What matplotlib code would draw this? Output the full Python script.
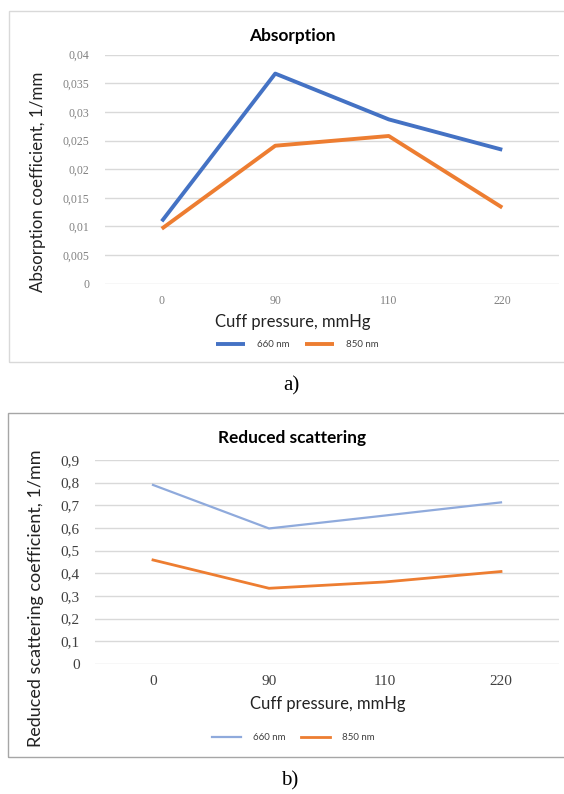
import matplotlib
matplotlib.use("Agg")
import matplotlib.pyplot as plt
from matplotlib.patches import Rectangle

# ---- data ----
pressures = ["0", "90", "110", "220"]
absorption_660 = [0.0109, 0.0367, 0.0287, 0.0234]
absorption_850 = [0.0096, 0.0241, 0.0258, 0.0133]
absorption_ticks = [0, 0.005, 0.01, 0.015, 0.02, 0.025, 0.03, 0.035, 0.04]
absorption_tick_labels = ["0", "0,005", "0,01", "0,015", "0,02", "0,025", "0,03", "0,035", "0,04"]

scattering_660 = [0.790, 0.598, 0.655, 0.713]
scattering_850 = [0.459, 0.334, 0.362, 0.408]
scattering_ticks = [0, 0.1, 0.2, 0.3, 0.4, 0.5, 0.6, 0.7, 0.8, 0.9]
scattering_tick_labels = ["0", "0,1", "0,2", "0,3", "0,4", "0,5", "0,6", "0,7", "0,8", "0,9"]

series_names = ["660 nm", "850 nm"]

W, H = 564, 794
fig = plt.figure(figsize=(W / 100, H / 100), dpi=100)
fig.patch.set_facecolor("white")

SANS = ["Lato", "DejaVu Sans"]
SERIF = ["Liberation Serif", "DejaVu Serif"]


def px_axes(x0, y0, x1, y1):
    return fig.add_axes([x0 / W, 1 - y1 / H, (x1 - x0) / W, (y1 - y0) / H])


def fx(x):
    return x / W


def fy(y):
    return 1 - y / H


# frames
fig.add_artist(Rectangle((fx(9), fy(362)), fx(600) - fx(9), fy(11) - fy(362),
                         transform=fig.transFigure, fill=False,
                         edgecolor="#d9d9d9", linewidth=1.0))
fig.add_artist(Rectangle((fx(8), fy(757)), fx(600) - fx(8), fy(413) - fy(757),
                         transform=fig.transFigure, fill=False,
                         edgecolor="#a6a6a6", linewidth=1.0))


def style_axes(ax, ticks, labels, ylim, tick_color, tick_size):
    ax.set_xlim(-0.5, len(pressures) - 0.5)
    ax.set_ylim(*ylim)
    ax.set_yticks(ticks)
    ax.set_yticklabels(labels, family=SERIF, fontsize=tick_size, color=tick_color)
    ax.set_xticks(range(len(pressures)))
    ax.set_xticklabels(pressures, family=SERIF, fontsize=tick_size, color=tick_color)
    for s in ax.spines.values():
        s.set_visible(False)
    ax.tick_params(length=0)
    ax.grid(axis="y", color="#d9d9d9", linewidth=1.0)
    ax.set_axisbelow(True)


# ---- top chart ----
ax1 = px_axes(105, 54.7, 559, 283.7)
style_axes(ax1, absorption_ticks, absorption_tick_labels, (0, 0.04), "#808080", 8.5)
ax1.tick_params(axis="y", pad=11)
ax1.tick_params(axis="x", pad=8)
l1, = ax1.plot(range(len(pressures)), absorption_660, color="#4472c4", linewidth=2.8,
               solid_capstyle="butt", solid_joinstyle="round")
l2, = ax1.plot(range(len(pressures)), absorption_850, color="#ed7d31", linewidth=2.8,
               solid_capstyle="butt", solid_joinstyle="round")
fig.text(fx(292), fy(36), "Absorption", family=SANS, fontsize=12.5, fontweight="bold",
         ha="center", va="center", color="#000000")
fig.text(fx(38), fy(182), "Absorption coefficient, 1/mm", family=SANS, fontsize=12.2,
         rotation=90, ha="center", va="center", color="#222222")
fig.text(fx(293), fy(322), "Cuff pressure, mmHg", family=SANS, fontsize=12,
         ha="center", va="center", color="#222222")
leg1 = fig.legend([l1, l2], series_names, loc="center", bbox_to_anchor=(fx(297), fy(345)),
                  ncol=2, frameon=False, prop={"family": SANS, "size": 7},
                  handlelength=3.0, handletextpad=1.2, columnspacing=1.6)
for t in leg1.get_texts():
    t.set_color("#404040")
fig.text(fx(291), fy(386), "a)", family=SERIF, fontsize=15, ha="center", va="center")

# ---- bottom chart ----
ax2 = px_axes(95, 460, 559, 664)
style_axes(ax2, scattering_ticks, scattering_tick_labels, (0, 0.9), "#404040", 11)
ax2.tick_params(axis="y", pad=11)
ax2.tick_params(axis="x", pad=8)
m1, = ax2.plot(range(len(pressures)), scattering_660, color="#8faadc", linewidth=1.6,
               solid_joinstyle="round")
m2, = ax2.plot(range(len(pressures)), scattering_850, color="#ed7d31", linewidth=2.0,
               solid_joinstyle="round")
fig.text(fx(292), fy(438), "Reduced scattering", family=SANS, fontsize=12.4, fontweight="bold",
         ha="center", va="center", color="#000000")
fig.text(fx(36), fy(598), "Reduced scattering coefficient, 1/mm", family=SANS, fontsize=13,
         rotation=90, ha="center", va="center", color="#222222")
fig.text(fx(328), fy(704), "Cuff pressure, mmHg", family=SANS, fontsize=12,
         ha="center", va="center", color="#222222")
leg2 = fig.legend([m1, m2], series_names, loc="center", bbox_to_anchor=(fx(293), fy(738)),
                  ncol=2, frameon=False, prop={"family": SANS, "size": 7},
                  handlelength=3.0, handletextpad=1.2, columnspacing=1.6)
for t in leg2.get_texts():
    t.set_color("#404040")
fig.text(fx(290), fy(781), "b)", family=SERIF, fontsize=15, ha="center", va="center")

fig.savefig("out.png", dpi=100, facecolor="white")
